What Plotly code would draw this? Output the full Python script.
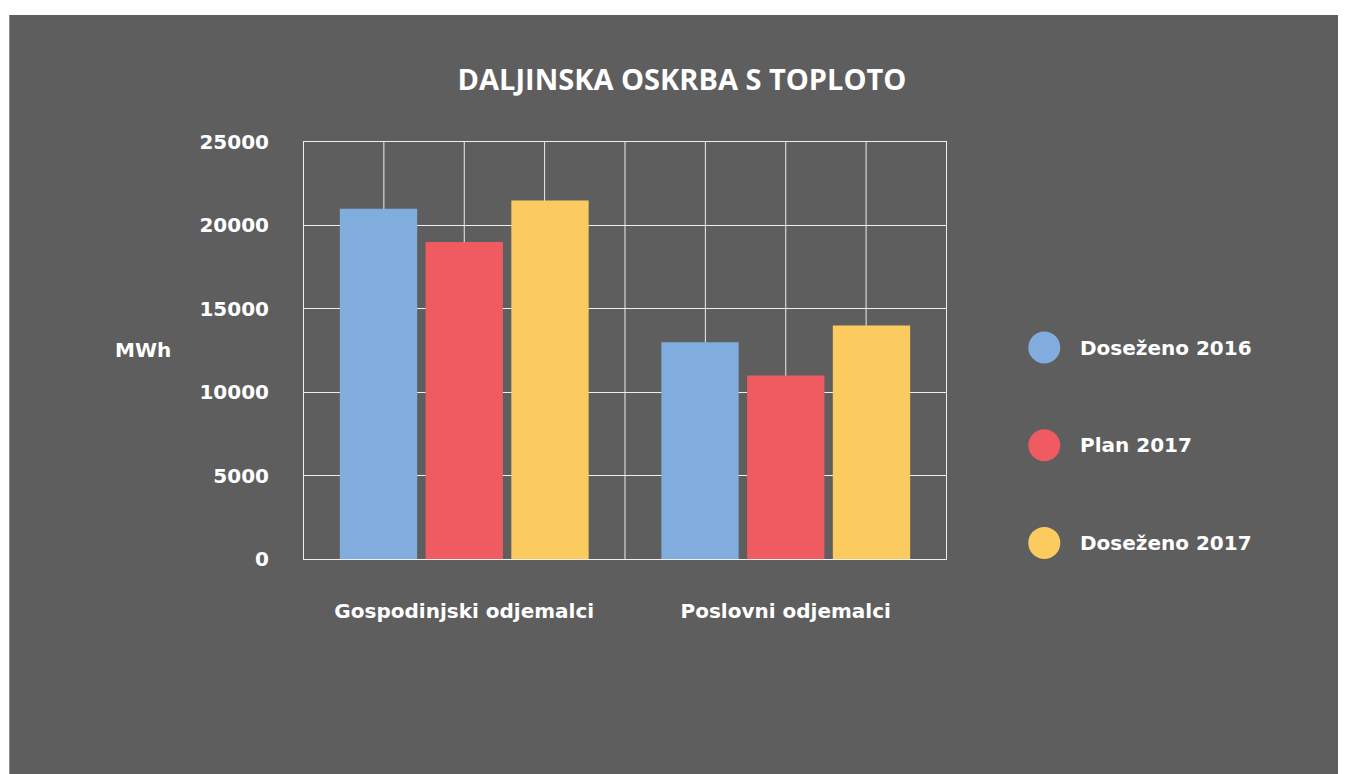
import numpy as np
import plotly.graph_objects as go

# data
categories = ["Gospodinjski odjemalci", "Poslovni odjemalci"]
series_names = ["Doseženo 2016", "Plan 2017", "Doseženo 2017"]
dosezeno_2016 = [21000, 13000]
plan_2017 = [19000, 11000]
dosezeno_2017 = [21500, 14000]
y_ticks = [0, 5000, 10000, 15000, 20000, 25000]

colors = ["#80ADDE", "#F05B62", "#FCCB5F"]
bg = "#5E5E5E"
OFF = 8  # page body margin
W, H = 1346 - OFF, 774 - OFF
# plot area, in page pixels
L, R, T, B = 302.7, 946.7, 142, 559

FONT = "DejaVu Sans"

fig = go.Figure()
for name, vals, col in zip(series_names, [dosezeno_2016, plan_2017, dosezeno_2017], colors):
    fig.add_trace(go.Bar(x=categories, y=vals, name=name, marker_color=col,
                         marker_line_width=0, showlegend=False))


def px_x(p):
    return (p - L) / (R - L)


def px_y(p):
    return (B - p) / (B - T)


shapes = [dict(type="rect", xref="paper", yref="paper", layer="below",
               x0=px_x(9), x1=px_x(1346 + 20), y0=px_y(15), y1=px_y(774 + 20),
               fillcolor=bg, line_width=0)]
# vertical grid: category edges, centers and quarters
for gx in np.linspace(-0.5, len(categories) - 0.5, 4 * len(categories) + 1):
    shapes.append(dict(type="line", xref="x", yref="paper", layer="below",
                       x0=gx, x1=gx, y0=0, y1=1, line=dict(color="#EEEEEE", width=1)))

annotations = [dict(text="MWh", xref="paper", yref="paper", x=px_x(142.5), y=px_y(350),
                    xanchor="center", yanchor="middle", showarrow=False,
                    font=dict(family=FONT, size=20, color="white", weight="bold"))]

# custom legend with large circles
for i, (name, col) in enumerate(zip(series_names, colors)):
    cy = 347.5 + i * 97.7
    r = 16
    shapes.append(dict(type="circle", xref="paper", yref="paper",
                       x0=px_x(1044 - r), x1=px_x(1044 + r), y0=px_y(cy + r), y1=px_y(cy - r),
                       fillcolor=col, line_width=0))
    annotations.append(dict(text=name, xref="paper", yref="paper", x=px_x(1078), y=px_y(cy),
                            xanchor="left", yanchor="middle", showarrow=False,
                            font=dict(family=FONT, size=20, color="white", weight="bold")))

fig.update_layout(
    width=W, height=H,
    margin=dict(l=L - OFF, r=W - (R - OFF), t=T - OFF, b=H - (B - OFF), pad=0),
    paper_bgcolor="white", plot_bgcolor="rgba(0,0,0,0)",
    barmode="group", bargap=0.2, bargroupgap=0.098,
    title=dict(text="DALJINSKA OSKRBA S TOPLOTO", x=(682 - OFF) / W, xref="container",
               xanchor="center", y=1 - (80 - OFF) / H, yanchor="middle",
               font=dict(family="Open Sans", size=29, color="white", weight="bold")),
    xaxis=dict(showgrid=False, zeroline=False, showline=True, mirror=True,
               linecolor="#EEEEEE", linewidth=1, ticks="", ticklabelstandoff=34,
               tickfont=dict(family=FONT, size=20, color="white", weight="bold")),
    yaxis=dict(range=[0, 25000], tickvals=y_ticks, ticktext=[str(v) for v in y_ticks],
               showgrid=True, gridcolor="#EEEEEE", gridwidth=1, zeroline=False,
               showline=False, ticks="", ticklabelstandoff=33,
               tickfont=dict(family=FONT, size=20, color="white", weight="bold")),
    shapes=shapes, annotations=annotations,
)

fig.write_html("out.html")
